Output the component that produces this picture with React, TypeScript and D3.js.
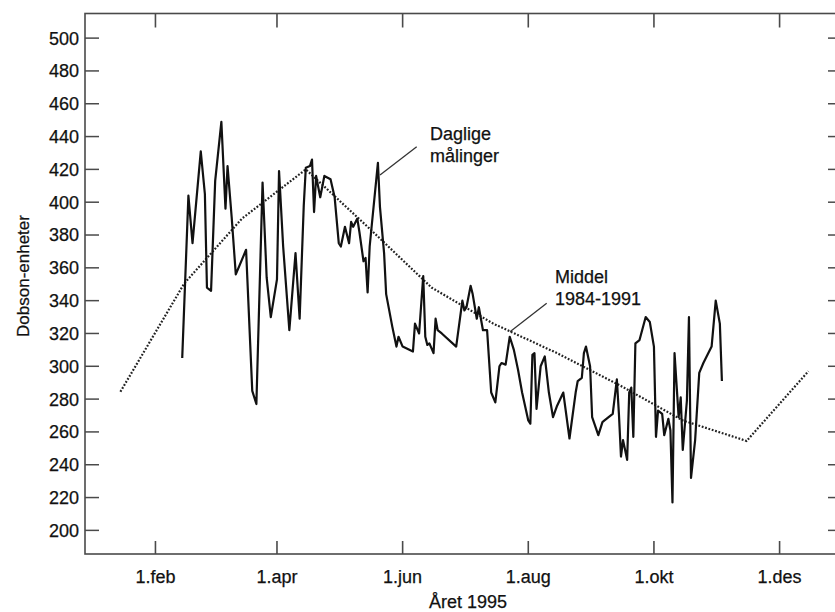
import React from "react";
import * as d3 from "d3";

// Daily ozone measurements, 1995 (day of year, Dobson units)
const dailyDay = [
  45, 48, 50, 54, 56, 57, 59, 61, 64, 66, 67, 69, 71, 76, 79, 81, 84, 86, 88, 91,
  92, 94, 97, 100, 102, 104, 105, 107, 108, 109, 110, 112, 114, 117, 119, 121, 122, 123, 124, 126,
  127, 128, 130, 131, 133, 134, 135, 136, 140, 141, 143, 144, 147, 149, 150, 152, 157, 158, 160, 162,
  163, 164, 165, 167, 168, 169, 171, 178, 181, 182, 183, 185, 186, 188, 189, 191, 193, 195, 197, 199,
  200, 202, 204, 206, 208, 210, 213, 214, 215, 216, 217, 219, 221, 223, 225, 227, 230, 233, 236, 237,
  239, 240, 241, 243, 244, 247, 249, 250, 252, 254, 256, 257, 258, 259, 261, 262, 263, 264, 265, 267,
  270, 272, 274, 275, 276, 278, 279, 281, 282, 283, 284, 286, 287, 288, 290, 291, 292, 294, 296, 298,
  302, 304, 306, 307,
];
const dailyValue = [
  305, 404, 375, 431, 405, 348, 346, 413, 449, 396, 422, 391, 356, 371, 285, 277, 412, 354, 330, 353,
  419, 373, 322, 369, 329, 398, 421, 422, 426, 394, 416, 403, 416, 414, 403, 375, 373, 379, 385, 375,
  388, 385, 390, 382, 364, 366, 345, 373, 424, 397, 369, 344, 324, 312, 318, 312, 309, 326, 320, 355,
  318, 313, 314, 308, 329, 322, 320, 312, 340, 334, 336, 349, 344, 329, 336, 322, 322, 284, 278, 300,
  302, 301, 318, 310, 298, 284, 267, 265, 307, 308, 274, 300, 306, 284, 269, 276, 284, 256, 284, 291,
  293, 308, 312, 300, 269, 258, 266, 267, 269, 271, 292, 271, 245, 255, 243, 284, 287, 257, 314, 316,
  330, 327, 312, 257, 273, 271, 258, 268, 261, 217, 308, 269, 281, 249, 279, 330, 232, 255, 296, 302,
  312, 340, 326, 291,
];

// Mean 1984-1991, mid-month values
const meanMonth = [0, 1, 2, 3, 4, 5, 6, 7, 8, 9, 10, 11];
const meanValue = [284.5, 350.5, 390, 420, 385, 348, 326, 308, 288, 267, 254.5, 297];

const yTicks = [200, 220, 240, 260, 280, 300, 320, 340, 360, 380, 400, 420, 440, 460, 480, 500];
const xTickMonths = [1, 3, 5, 7, 9, 11];
const xTickLabels = ["1.feb", "1.apr", "1.jun", "1.aug", "1.okt", "1.des"];

const W = 835;
const H = 612;
const left = 85;
const right = 842;
const top = 13.5;
const bottom = 554;

const DAY = 86400000;
const jan1 = new Date(1995, 0, 1).getTime();

export default function App() {
  const x = d3
    .scaleTime()
    .domain([new Date(jan1 - 3.2 * DAY), new Date(jan1 + 364.3 * DAY)])
    .range([left, right]);
  const y = d3.scaleLinear().domain([185.6, 515]).range([bottom, top]);

  const daily = dailyDay.map((d, i) => ({ date: new Date(1995, 0, d), v: dailyValue[i] }));
  const mean = meanMonth.map((m, i) => ({ date: new Date(1995, m, 15), v: meanValue[i] }));

  const line = d3
    .line<{ date: Date; v: number }>()
    .x((d) => x(d.date))
    .y((d) => y(d.v));

  const font = "'Liberation Sans', Arial, Helvetica, sans-serif";
  const axisColor = "#4a4a4a";
  const textColor = "#111";
  const textStroke = { stroke: textColor, strokeWidth: 0.25 };

  return (
    <svg
      width={W}
      height={H}
      viewBox={`0 0 ${W} ${H}`}
      style={{ display: "block", position: "absolute", left: 0, top: 0, background: "#fff" }}
      fontFamily={font}
    >
      <rect x={0} y={0} width={W} height={H} fill="#fff" />
      {/* frame */}
      <rect
        x={left}
        y={top}
        width={right - left}
        height={bottom - top}
        fill="none"
        stroke={axisColor}
        strokeWidth={1.6}
      />
      {/* y ticks */}
      {yTicks.map((t) => (
        <g key={"y" + t}>
          <line x1={left} x2={left + 14} y1={y(t)} y2={y(t)} stroke={axisColor} strokeWidth={1.5} />
          <line x1={right} x2={right - 14} y1={y(t)} y2={y(t)} stroke={axisColor} strokeWidth={1.5} />
          <text
            x={left - 6}
            y={y(t)}
            dy="0.36em"
            textAnchor="end"
            fontSize={18}
            fill={textColor}
            {...textStroke}
          >
            {t}
          </text>
        </g>
      ))}
      {/* x ticks */}
      {xTickMonths.map((m, i) => {
        const px = x(new Date(1995, m, 1));
        return (
          <g key={"x" + m}>
            <line x1={px} x2={px} y1={bottom} y2={bottom - 13} stroke={axisColor} strokeWidth={1.6} />
            <line x1={px} x2={px} y1={top} y2={top + 14} stroke={axisColor} strokeWidth={1.6} />
            <text x={px} y={583} textAnchor="middle" fontSize={18} fill={textColor} {...textStroke}>
              {xTickLabels[i]}
            </text>
          </g>
        );
      })}
      {/* axis titles */}
      <text x={468} y={608} textAnchor="middle" fontSize={18} fill={textColor} {...textStroke}>
        Året 1995
      </text>
      <text
        transform="translate(29,276) rotate(-90)"
        textAnchor="middle"
        fontSize={17}
        fill={textColor}
        {...textStroke}
      >
        Dobson-enheter
      </text>

      {/* mean curve */}
      <path
        d={line(mean) || ""}
        fill="none"
        stroke="#222"
        strokeWidth={2.2}
        strokeDasharray="1.8,1.7"
      />
      {/* daily line */}
      <path
        d={line(daily) || ""}
        fill="none"
        stroke="#111"
        strokeWidth={2.2}
        strokeLinejoin="round"
      />

      {/* annotations */}
      <line x1={416.7} y1={146.7} x2={380} y2={175} stroke="#333" strokeWidth={1.3} />
      <text x={430} y={140} fontSize={18} fill={textColor} {...textStroke}>
        Daglige
      </text>
      <text x={430} y={162} fontSize={18} fill={textColor} {...textStroke}>
        målinger
      </text>
      <line x1={546.7} y1={303.3} x2={510} y2={331.7} stroke="#333" strokeWidth={1.3} />
      <text x={555} y={283} fontSize={18} fill={textColor} {...textStroke}>
        Middel
      </text>
      <text x={555} y={305} fontSize={18} fill={textColor} {...textStroke}>
        1984-1991
      </text>
    </svg>
  );
}
